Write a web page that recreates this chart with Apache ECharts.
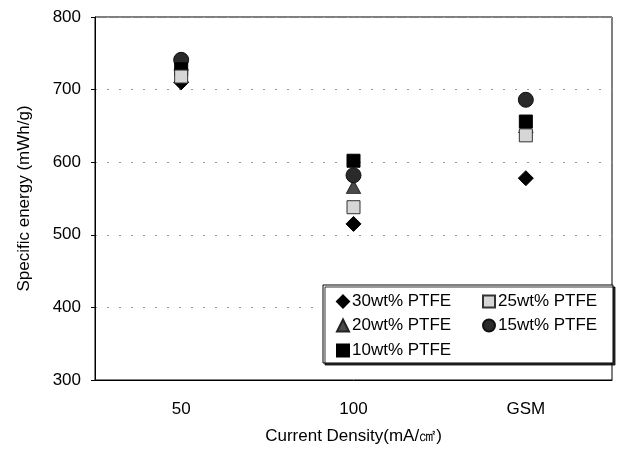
<!DOCTYPE html>
<html><head><meta charset="utf-8">
<script src="https://cdn.jsdelivr.net/npm/echarts@6/dist/echarts.min.js"></script>
<style>html,body{margin:0;padding:0;background:#fff}#c{width:630px;height:454px}</style>
</head><body><div id="c"></div>
<script>
var categories = ['50', '100', 'GSM'];
var s30 = [710, 515, 578];
var s25 = [718, 538, 637];
var s20 = [736, 566, 650];
var s15 = [741, 582, 686];
var s10 = [728, 602, 656];
var yTicks = [300, 400, 500, 600, 700, 800];

var FONT = 'Liberation Sans';
var names = ['30wt% PTFE', '25wt% PTFE', '20wt% PTFE', '15wt% PTFE', '10wt% PTFE'];
var symbols = ['diamond', 'rect', 'triangle', 'circle', 'rect'];
var colors = ['#000', '#d6d6d6', '#4a4a4a', '#2a2a2a', '#000'];
var borders = ['#000', '#333', '#222', '#111', '#000'];
var sizes = [[15, 15], [13, 13], [14, 13], [15, 15], [13, 13]];
var zs = [2, 8, 3, 4, 5];
var datas = [s30, s25, s20, s15, s10];

var series = names.map(function (n, i) {
  return {
    name: n, type: 'scatter', data: datas[i], symbol: symbols[i], symbolSize: sizes[i],
    itemStyle: { color: colors[i], borderColor: borders[i], borderWidth: 1, opacity: 1 },
    z: zs[i]
  };
});

var legPos = [[336, 293], [482, 293], [336, 317], [482, 317], [336, 342]];
var legends = names.map(function (n, i) {
  return {
    data: [n], left: legPos[i][0], top: legPos[i][1], padding: 0,
    itemWidth: 12, itemHeight: 12, itemGap: 0,
    textStyle: { fontFamily: FONT, fontSize: 17, color: '#000', padding: [0, 0, 0, -2] },
    selectedMode: false
  };
});

var chart = echarts.init(document.getElementById('c'), null, { renderer: 'canvas' });
chart.setOption({
  animation: false,
  backgroundColor: '#fff',
  grid: { left: 95, right: 18, top: 17, bottom: 74, show: true, borderColor: '#000', borderWidth: 1 },
  xAxis: {
    type: 'category', data: categories, boundaryGap: true,
    name: 'Current Density(mA/㎠)', nameLocation: 'middle', nameGap: 48,
    nameTextStyle: { fontFamily: FONT, fontSize: 17, color: '#000' },
    axisLine: { lineStyle: { color: '#000' } },
    axisTick: { inside: true, length: 5, lineStyle: { color: '#000' } },
    axisLabel: { fontFamily: FONT, fontSize: 17, color: '#000', margin: 21 },
    splitLine: { show: false }
  },
  yAxis: {
    type: 'value', min: yTicks[0], max: yTicks[yTicks.length - 1], interval: 100,
    name: 'Specific energy (mWh/g)', nameLocation: 'middle', nameGap: 62,
    nameTextStyle: { fontFamily: FONT, fontSize: 17, color: '#000' },
    axisLine: { show: true, lineStyle: { color: '#000' } },
    axisTick: { show: true, length: 4, lineStyle: { color: '#000' } },
    axisLabel: { fontFamily: FONT, fontSize: 17, color: '#000', margin: 14 },
    splitLine: { show: true, lineStyle: { color: '#999', type: [2, 10], width: 1 } }
  },
  legend: legends,
  graphic: [{
    type: 'rect', shape: { x: 323, y: 285, width: 290, height: 78 },
    style: { fill: '#fff', stroke: '#000', lineWidth: 1, shadowColor: 'rgba(0,0,0,0.8)', shadowOffsetX: 2, shadowOffsetY: 2, shadowBlur: 0 },
    z: 1, silent: true
  }],
  series: series
});
</script></body></html>
